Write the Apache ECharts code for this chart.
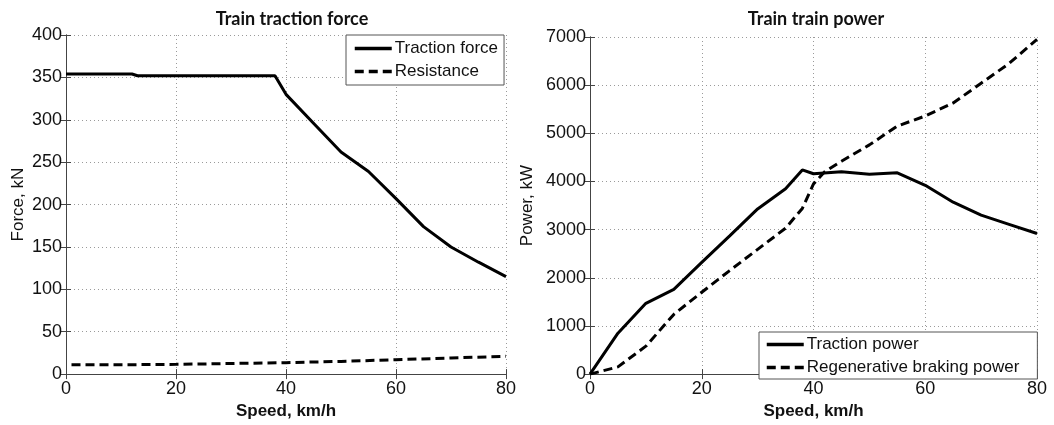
<!DOCTYPE html>
<html>
<head>
<meta charset="utf-8">
<script src="https://cdn.jsdelivr.net/npm/echarts@6/dist/echarts.min.js"></script>
<style>
html,body{margin:0;padding:0;background:#fff;}
#c{width:1054px;height:425px;}
</style>
</head>
<body>
<div id="c"></div>
<script>
// ---- data ----
const forceSpeed = [0, 12, 13, 20, 30, 38, 40, 45, 50, 55, 60, 65, 70, 75, 80];
const tractionForce = [354, 354, 352, 352, 352, 352, 330, 296, 262, 239, 207, 174, 150, 132, 115];
const resSpeed = [1, 10, 20, 30, 40, 50, 60, 70, 80];
const resistance = [11, 11, 11.5, 12.5, 13.5, 15, 17, 19, 21];

const powerSpeed = [0, 5, 10, 15, 20, 25, 30, 35, 38, 40, 45, 50, 55, 60, 65, 70, 75, 80];
const tractionPower = [0, 850, 1470, 1760, 2320, 2870, 3430, 3850, 4240, 4160, 4200, 4150, 4180, 3920, 3570, 3300, 3110, 2920];
const regenSpeed = [0, 5, 10, 15, 20, 25, 30, 35, 38, 40, 42, 45, 50, 55, 60, 65, 70, 75, 80];
const regenPower = [0, 150, 580, 1240, 1700, 2150, 2590, 3030, 3440, 3950, 4200, 4420, 4760, 5150, 5360, 5630, 6040, 6450, 6950];

const forceTicks = {min: 0, max: 400, interval: 50};
const powerTicks = {min: 0, max: 7000, interval: 1000};
const speedTicks = {min: 0, max: 80, interval: 20};

const titles = ['Train traction force', 'Train train power'];
const legendLeft = ['Traction force', 'Resistance'];
const legendRight = ['Traction power', 'Regenerative braking power'];

function zip(xs, ys) { return xs.map((x, i) => [x, ys[i]]); }

const FONT = '"Liberation Sans", Arial, sans-serif';
const axisTxt = {color: '#111', fontSize: 18, fontFamily: FONT, formatter: v => String(v)};
const split = {show: true, lineStyle: {color: '#9a9a9a', type: [1, 3], width: 1}};

function mainX(grid) {
  return {
    type: 'value', gridIndex: grid, min: speedTicks.min, max: speedTicks.max, interval: speedTicks.interval,
    name: 'Speed, km/h', nameLocation: 'middle', nameGap: 28,
    nameTextStyle: {color: '#111', fontSize: 17, fontWeight: 'bold', fontFamily: FONT},
    axisLine: {show: true, lineStyle: {color: '#444'}},
    axisTick: {show: true, inside: true, length: 5, lineStyle: {color: '#444'}},
    axisLabel: Object.assign({margin: 6}, axisTxt),
    splitLine: split
  };
}
function topX(grid) {
  return {
    type: 'value', gridIndex: grid, position: 'top', min: speedTicks.min, max: speedTicks.max, interval: speedTicks.interval,
    axisLine: {show: true, lineStyle: {color: '#444'}},
    axisTick: {show: true, inside: true, length: 5, lineStyle: {color: '#444'}},
    axisLabel: {show: false}, splitLine: {show: false}
  };
}
function mainY(grid, t, name, gap) {
  return {
    type: 'value', gridIndex: grid, min: t.min, max: t.max, interval: t.interval,
    name: name, nameLocation: 'middle', nameGap: gap,
    nameTextStyle: {color: '#111', fontSize: 17, fontFamily: FONT},
    axisLine: {show: true, lineStyle: {color: '#444'}},
    axisTick: {show: true, inside: true, length: 5, lineStyle: {color: '#444'}},
    axisLabel: Object.assign({margin: 4}, axisTxt),
    splitLine: split
  };
}
function rightY(grid, t) {
  return {
    type: 'value', gridIndex: grid, position: 'right', min: t.min, max: t.max, interval: t.interval,
    axisLine: {show: true, lineStyle: {color: '#444'}},
    axisTick: {show: true, inside: true, length: 5, lineStyle: {color: '#444'}},
    axisLabel: {show: false}, splitLine: {show: false}
  };
}

const solid = {color: '#000', width: 3, type: 'solid'};
const dashed = {color: '#000', width: 3, type: [9, 5]};

const legendCommon = {
  orient: 'vertical', backgroundColor: '#fff', borderColor: '#555', borderWidth: 1,
  itemWidth: 37, itemHeight: 14, itemGap: 6,
  itemStyle: {opacity: 0},
  lineStyle: {width: 3.5},
  textStyle: {color: '#111', fontSize: 17, fontFamily: FONT, padding: [0, 0, 0, -2]}
};

const titleStyle = {fontSize: 18, fontWeight: 'bold', color: '#111', fontFamily: 'Lato, "Open Sans", sans-serif'};

const option = {
  animation: false,
  backgroundColor: '#fff',
  title: [
    {text: titles[0], left: 287, top: 5, textAlign: 'center', textStyle: titleStyle},
    {text: titles[1], left: 811, top: 5, textAlign: 'center', textStyle: titleStyle}
  ],
  grid: [
    {left: 66, top: 35, width: 440, height: 345, show: false},
    {left: 590, top: 37, width: 447, height: 345, show: false}
  ],
  xAxis: [mainX(0), topX(0), mainX(1), topX(1)],
  yAxis: [mainY(0, forceTicks, 'Force, kN', 39), rightY(0, forceTicks),
          mainY(1, powerTicks, 'Power, kW', 54), rightY(1, powerTicks)],
  legend: [
    Object.assign({}, legendCommon, {data: legendLeft, left: 346, top: 35, padding: [5, 6, 5, 7]}),
    Object.assign({}, legendCommon, {data: legendRight, left: 759, top: 332, padding: [4, 18, 3, 6]})
  ],
  series: [
    {name: legendLeft[0], type: 'line', xAxisIndex: 0, yAxisIndex: 0, data: zip(forceSpeed, tractionForce),
     showSymbol: false, symbol: 'none', lineStyle: solid, itemStyle: {color: '#000'}},
    {name: legendLeft[1], type: 'line', xAxisIndex: 0, yAxisIndex: 0, data: zip(resSpeed, resistance),
     showSymbol: false, symbol: 'none', lineStyle: dashed, itemStyle: {color: '#000'}},
    {name: legendRight[0], type: 'line', xAxisIndex: 2, yAxisIndex: 2, data: zip(powerSpeed, tractionPower),
     showSymbol: false, symbol: 'none', lineStyle: solid, itemStyle: {color: '#000'}},
    {name: legendRight[1], type: 'line', xAxisIndex: 2, yAxisIndex: 2, data: zip(regenSpeed, regenPower),
     showSymbol: false, symbol: 'none', lineStyle: dashed, itemStyle: {color: '#000'}}
  ]
};

const chart = echarts.init(document.getElementById('c'), null, {renderer: 'canvas'});
chart.setOption(option);
</script>
</body>
</html>
